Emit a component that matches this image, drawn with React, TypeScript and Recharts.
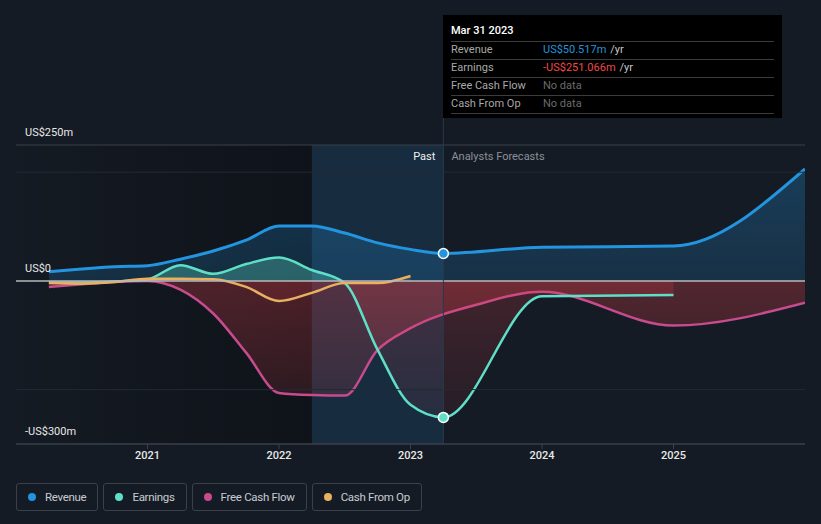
import React from 'react';
import {
  ComposedChart,
  Area,
  XAxis,
  YAxis,
  ReferenceArea,
  ReferenceLine,
  ReferenceDot,
} from 'recharts';

// quarterly history, then analyst forecasts
const pastQuarters = [2020.25, 2020.5, 2020.75, 2021, 2021.25, 2021.5, 2021.75, 2022, 2022.25, 2022.5, 2022.75, 2023, 2023.25];

const revenueDates = [...pastQuarters, 2024, 2025, 2026];
const revenueValues = [17, 22, 26, 28, 40, 55, 75, 101, 101, 88, 70, 58, 50.517, 62, 64, 206];

const earningsDates = [...pastQuarters, 2024, 2025];
const earningsValues = [-3, -3, -1, 3, 29, 13, 31, 43, 20, -4, -127, -228, -251.066, -28, -26];

const fcfDates = [...pastQuarters.slice(0, 12), 2023.5, 2024, 2025, 2026];
const fcfValues = [-11, -6, -2, 0, -16, -60, -132, -206, -210, -211, -127, -87, -44, -20, -82, -40];

const cfoDates = pastQuarters.slice(0, 12);
const cfoValues = [-4, -5, -2, 4, 4, 3, -11, -37, -22, -4, -4, 9];

const yearTicks = [2021, 2022, 2023, 2024, 2025];
const yTicks = [-300, 0, 250];
const yTickLabels = ['-US$300m', 'US$0', 'US$250m'];

const pastStart = 2022.25;
const today = 2023.25;

const series = [
  { key: 'revenue', name: 'Revenue', dates: revenueDates, values: revenueValues, color: '#2394df' },
  { key: 'earnings', name: 'Earnings', dates: earningsDates, values: earningsValues, color: '#5ee0c8' },
  { key: 'fcf', name: 'Free Cash Flow', dates: fcfDates, values: fcfValues, color: '#c84b8e' },
  { key: 'cfo', name: 'Cash From Op', dates: cfoDates, values: cfoValues, color: '#e8b060' },
];

// merge every series onto one x table
const allX = Array.from(new Set(series.flatMap((s) => s.dates))).sort((a, b) => a - b);
const data = allX.map((x) => {
  const row: Record<string, number | null> = { x };
  series.forEach((s) => {
    const i = s.dates.indexOf(x);
    row[s.key] = i >= 0 ? s.values[i] : null;
  });
  return row;
});

const FONT = 'Roboto, sans-serif';

const YLabel = (props: any) => {
  const { viewBox, text } = props;
  return (
    <text x={25} y={viewBox.y - 9} fill="#e8e8e8" fontSize={11} fontFamily={FONT}>
      {text}
    </text>
  );
};

const PastLabel = (props: any) => {
  const { viewBox } = props;
  const x = viewBox.x;
  return (
    <g fontFamily={FONT} fontSize={11}>
      <text x={x - 8} y={160} textAnchor="end" fill="#f0f0f0">Past</text>
      <text x={x + 8} y={160} fill="#8a9099">Analysts Forecasts</text>
    </g>
  );
};

const TooltipBox = () => {
  const rows = [
    { label: 'Revenue', value: 'US$50.517m', color: '#2394df', unit: '/yr' },
    { label: 'Earnings', value: '-US$251.066m', color: '#f04848', unit: '/yr' },
    { label: 'Free Cash Flow', value: 'No data', color: '#6b6b6b', unit: '' },
    { label: 'Cash From Op', value: 'No data', color: '#6b6b6b', unit: '' },
  ];
  return (
    <div
      style={{
        position: 'absolute',
        left: 443,
        top: 15,
        width: 339,
        height: 103,
        background: '#000',
        fontFamily: FONT,
        fontSize: 11,
        boxSizing: 'border-box',
        padding: '8px 8px 0 8px',
      }}
    >
      <div style={{ color: '#fff', fontWeight: 500, height: 18, lineHeight: '16px' }}>Mar 31 2023</div>
      {rows.map((r) => (
        <div
          key={r.label}
          style={{
            display: 'flex',
            borderTop: '1px solid #3c3c3c',
            height: 17,
            lineHeight: '16px',
            color: '#a8a8a8',
          }}
        >
          <span style={{ width: 92 }}>{r.label}</span>
          <span style={{ color: r.color }}>{r.value}</span>
          {r.unit && <span style={{ color: '#c8c8c8', marginLeft: 4 }}>{r.unit}</span>}
        </div>
      ))}
      <div style={{ borderTop: '1px solid #3c3c3c' }} />
    </div>
  );
};

const Legend = () => (
  <div style={{ position: 'absolute', left: 16, top: 483, display: 'flex', gap: 5, fontFamily: FONT }}>
    {series.map((s) => (
      <div
        key={s.key}
        style={{
          height: 28,
          boxSizing: 'border-box',
          border: '1px solid #3a414b',
          borderRadius: 3,
          display: 'flex',
          alignItems: 'center',
          padding: '0 11px 0 11px',
          color: '#c8ccd2',
          fontSize: 11.5,
          letterSpacing: -0.3,
        }}
      >
        <span
          style={{ width: 8, height: 8, borderRadius: 4, background: s.color, display: 'inline-block', marginRight: 9 }}
        />
        {s.name}
      </div>
    ))}
  </div>
);

export default function App() {
  return (
    <div style={{ position: 'absolute', left: 0, top: 0, width: 821, height: 524, background: '#151b24', overflow: 'hidden' }}>
      <ComposedChart width={821} height={470} data={data} margin={{ top: 145, right: 16, left: 16, bottom: 0 }}>
        <defs>
          <linearGradient id="pastDark" x1="0" y1="0" x2="1" y2="0">
            <stop offset="0%" stopColor="#000" stopOpacity={0.02} />
            <stop offset="100%" stopColor="#000" stopOpacity={0.3} />
          </linearGradient>
          <linearGradient id="revFill" gradientUnits="userSpaceOnUse" x1="0" y1="145" x2="0" y2="281">
            <stop offset="0%" stopColor="#2394df" stopOpacity={0.3} />
            <stop offset="100%" stopColor="#2394df" stopOpacity={0.18} />
          </linearGradient>
          <linearGradient id="earnFill" gradientUnits="userSpaceOnUse" x1="0" y1="145" x2="0" y2="444">
            <stop offset="0%" stopColor="#5ee0c8" stopOpacity={0.35} />
            <stop offset="45.5%" stopColor="#5ee0c8" stopOpacity={0.3} />
            <stop offset="45.5%" stopColor="#e0404a" stopOpacity={0.22} />
            <stop offset="100%" stopColor="#e0404a" stopOpacity={0.05} />
          </linearGradient>
          <linearGradient id="fcfFill" gradientUnits="userSpaceOnUse" x1="0" y1="145" x2="0" y2="444">
            <stop offset="0%" stopColor="#c84b8e" stopOpacity={0.2} />
            <stop offset="45.5%" stopColor="#c84b8e" stopOpacity={0.2} />
            <stop offset="45.5%" stopColor="#e0404a" stopOpacity={0.3} />
            <stop offset="100%" stopColor="#e0404a" stopOpacity={0.08} />
          </linearGradient>
          <linearGradient id="cfoFill" gradientUnits="userSpaceOnUse" x1="0" y1="145" x2="0" y2="444">
            <stop offset="0%" stopColor="#e8b060" stopOpacity={0.15} />
            <stop offset="45.5%" stopColor="#e8b060" stopOpacity={0.15} />
            <stop offset="45.5%" stopColor="#e0404a" stopOpacity={0.12} />
            <stop offset="100%" stopColor="#e0404a" stopOpacity={0.05} />
          </linearGradient>
        </defs>

        <XAxis
          dataKey="x"
          type="number"
          domain={[2020, 2026]}
          ticks={yearTicks}
          height={26}
          tickSize={5}
          stroke="#3a414b"
          tick={{ fill: '#e8e8e8', fontSize: 11, fontFamily: FONT, fontWeight: 500 }}
          allowDataOverflow
        />
        <YAxis type="number" domain={[-300, 250]} ticks={yTicks} width={0} hide allowDataOverflow />

        <ReferenceArea x1={2020} x2={pastStart} y1={-300} y2={250} fill="url(#pastDark)" fillOpacity={1} stroke="none" />
        <ReferenceArea x1={pastStart} x2={today} y1={-300} y2={250} fill="#1d5a85" fillOpacity={0.28} stroke="none" />

        <ReferenceLine y={yTicks[2]} stroke="#3a414b" label={<YLabel text={yTickLabels[2]} />} />
        <ReferenceLine y={200} stroke="#232a34" />
        <ReferenceLine y={-200} stroke="#232a34" />

        <Area
          type="monotone"
          dataKey="revenue"
          stroke="#2394df"
          strokeWidth={3}
          fill="url(#revFill)"
          fillOpacity={1}
          baseValue={0}
          connectNulls
          dot={false}
          activeDot={false}
          isAnimationActive={false}
        />
        <Area
          type="monotone"
          dataKey="fcf"
          stroke="#c84b8e"
          strokeWidth={2.5}
          fill="url(#fcfFill)"
          fillOpacity={1}
          baseValue={0}
          connectNulls
          dot={false}
          activeDot={false}
          isAnimationActive={false}
        />
        <Area
          type="monotone"
          dataKey="earnings"
          stroke="#5ee0c8"
          strokeWidth={2.5}
          fill="url(#earnFill)"
          fillOpacity={1}
          baseValue={0}
          connectNulls
          dot={false}
          activeDot={false}
          isAnimationActive={false}
        />
        <Area
          type="monotone"
          dataKey="cfo"
          stroke="#e8b060"
          strokeWidth={2.5}
          fill="url(#cfoFill)"
          fillOpacity={1}
          baseValue={0}
          connectNulls
          dot={false}
          activeDot={false}
          isAnimationActive={false}
        />

        <ReferenceLine y={yTicks[1]} stroke="#b8b8b8" strokeWidth={1.5} label={<YLabel text={yTickLabels[1]} />} />
        <ReferenceLine y={yTicks[0]} stroke="#3a414b" label={<YLabel text={yTickLabels[0]} />} />
        <ReferenceLine
          segment={[{ x: today, y: -300 }, { x: today, y: 300 }]}
          stroke="#2a3a4a"
          ifOverflow="visible"
          label={<PastLabel />}
        />

        <ReferenceDot x={today} y={revenueValues[12]} r={5} fill="#2394df" stroke="#fff" strokeWidth={1.5} />
        <ReferenceDot x={today} y={earningsValues[12]} r={5} fill="#5ee0c8" stroke="#fff" strokeWidth={1.5} />
      </ComposedChart>
      <TooltipBox />
      <Legend />
    </div>
  );
}
